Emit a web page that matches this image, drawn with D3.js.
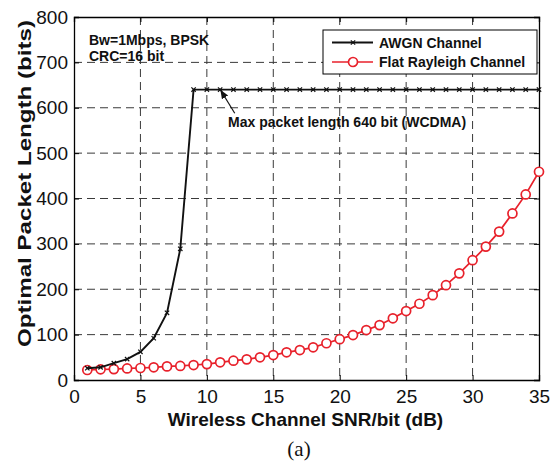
<!DOCTYPE html>
<html>
<head>
<meta charset="utf-8">
<script src="https://cdn.jsdelivr.net/npm/d3@7"></script>
<style>
  body { margin: 0; background: #fff; }
  svg { display: block; }
  text { font-family: "Liberation Sans", Arial, sans-serif; }
</style>
</head>
<body>
<div id="chart"></div>
<script>
// data
const snr = [1, 2, 3, 4, 5, 6, 7, 8, 9, 10, 11, 12, 13, 14, 15, 16, 17, 18, 19, 20,
    21, 22, 23, 24, 25, 26, 27, 28, 29, 30, 31, 32, 33, 34, 35];
const awgn = [26, 28, 37, 46, 62, 92, 148, 289, 640, 640, 640, 640, 640, 640, 640, 640, 640, 640, 640, 640,
    640, 640, 640, 640, 640, 640, 640, 640, 640, 640, 640, 640, 640, 640, 640];
const rayleigh = [22, 23.5, 24, 25.5, 26.5, 28, 30, 31, 33, 35, 39, 42.5, 45.5, 50, 55, 61, 66, 72, 81, 90,
    99, 110, 121, 136, 152, 168, 187, 209, 235, 264, 294, 327, 367, 409, 459];
const xTicks = [0, 5, 10, 15, 20, 25, 30, 35];
const yTicks = [0, 100, 200, 300, 400, 500, 600, 700, 800];
const seriesNames = ['AWGN Channel', 'Flat Rayleigh Channel'];

const W = 551, H = 464;
const MARGIN = { TOP: 17, BOTTOM: 84, LEFT: 74, RIGHT: 12 };
const RED = '#e8212b';

const svg = d3.select('#chart')
    .append('svg')
    .attr('width', W)
    .attr('height', H);

const x = d3.scaleLinear().domain([0, 35]).range([MARGIN.LEFT, W - MARGIN.RIGHT]);
const y = d3.scaleLinear().domain([0, 800]).range([H - MARGIN.BOTTOM, MARGIN.TOP]);

// grid
const grid = svg.append('g')
    .attr('stroke', '#3a3a3a')
    .attr('stroke-width', 1)
    .attr('stroke-dasharray', '8,5');
grid.selectAll('line.vx')
    .data(xTicks.slice(1, -1))
    .enter().append('line')
    .attr('x1', d => x(d)).attr('x2', d => x(d))
    .attr('y1', y(800)).attr('y2', y(0));
grid.selectAll('line.hy')
    .data(yTicks.slice(1, -1))
    .enter().append('line')
    .attr('x1', x(0)).attr('x2', x(35))
    .attr('y1', d => y(d)).attr('y2', d => y(d));

// axes, ticks inside
const xAxis = svg.append('g')
    .attr('transform', `translate(0, ${y(0)})`)
    .call(d3.axisBottom(x).tickValues(xTicks).tickSize(-5).tickPadding(9.5));
const yAxis = svg.append('g')
    .attr('transform', `translate(${x(0)}, 0)`)
    .call(d3.axisLeft(y).tickValues(yTicks).tickSize(-5).tickPadding(6));
svg.append('g')
    .attr('transform', `translate(0, ${y(800)})`)
    .call(d3.axisTop(x).tickValues(xTicks).tickSize(-5).tickFormat(''));
svg.append('g')
    .attr('transform', `translate(${x(35)}, 0)`)
    .call(d3.axisRight(y).tickValues(yTicks).tickSize(-5).tickFormat(''));

svg.selectAll('.domain').attr('stroke', '#000').attr('stroke-width', 1.3);
svg.selectAll('.tick line').attr('stroke', '#000').attr('stroke-width', 1);
[xAxis, yAxis].forEach(g => g.selectAll('text')
    .attr('font-size', '19px')
    .attr('fill', '#111')
    .style('font-family', '"Liberation Sans", Arial, sans-serif'));

// lines
const line = d3.line().x((d, i) => x(snr[i])).y(d => y(d));

svg.append('path')
    .datum(rayleigh)
    .attr('d', line)
    .attr('fill', 'none')
    .attr('stroke', RED)
    .attr('stroke-width', 1.7);

svg.selectAll('circle.ray')
    .data(rayleigh)
    .enter().append('circle')
    .attr('class', 'ray')
    .attr('cx', (d, i) => x(snr[i]))
    .attr('cy', d => y(d))
    .attr('r', 4.5)
    .attr('fill', '#fff')
    .attr('stroke', RED)
    .attr('stroke-width', 1.7);

svg.append('path')
    .datum(awgn)
    .attr('d', line)
    .attr('fill', 'none')
    .attr('stroke', '#111')
    .attr('stroke-width', 1.9);

const cross = d3.symbol().type(d3.symbolX).size(14);
svg.selectAll('path.awgn')
    .data(awgn)
    .enter().append('path')
    .attr('class', 'awgn')
    .attr('transform', (d, i) => `translate(${x(snr[i])}, ${y(d)})`)
    .attr('d', cross)
    .attr('fill', 'none')
    .attr('stroke', '#111')
    .attr('stroke-width', 1.2);

// legend
const legend = svg.append('g');
legend.append('rect')
    .attr('x', 323).attr('y', 30)
    .attr('width', 214).attr('height', 44)
    .attr('fill', '#fff')
    .attr('stroke', '#000')
    .attr('stroke-width', 1);

const items = legend.selectAll('g.item')
    .data(seriesNames)
    .enter().append('g')
    .attr('class', 'item')
    .attr('transform', (d, i) => `translate(0, ${i === 0 ? 42.5 : 62})`);
items.append('line')
    .attr('x1', 332).attr('x2', 373)
    .attr('stroke', (d, i) => i === 0 ? '#111' : RED)
    .attr('stroke-width', (d, i) => i === 0 ? 1.9 : 1.7);
items.filter((d, i) => i === 0).append('path')
    .attr('transform', 'translate(353, 0)')
    .attr('d', cross)
    .attr('fill', 'none')
    .attr('stroke', '#111')
    .attr('stroke-width', 1.2);
items.filter((d, i) => i === 1).append('circle')
    .attr('cx', 353).attr('r', 4.5)
    .attr('fill', '#fff')
    .attr('stroke', RED)
    .attr('stroke-width', 1.7);
items.append('text')
    .attr('x', 379)
    .attr('y', 5)
    .attr('font-size', '14px')
    .attr('font-weight', 'bold')
    .attr('fill', '#111')
    .text(d => d);

// annotations
svg.append('text')
    .attr('x', 89).attr('y', 45)
    .attr('font-size', '14px').attr('font-weight', 'bold').attr('fill', '#111')
    .text('Bw=1Mbps, BPSK');
svg.append('text')
    .attr('x', 89).attr('y', 61)
    .attr('font-size', '14px').attr('font-weight', 'bold').attr('fill', '#111')
    .text('CRC=16 bit');

svg.append('defs').append('marker')
    .attr('id', 'arrow')
    .attr('viewBox', '0 0 10 10')
    .attr('refX', 9).attr('refY', 5)
    .attr('markerWidth', 9).attr('markerHeight', 9)
    .attr('markerUnits', 'userSpaceOnUse')
    .attr('orient', 'auto')
    .append('path')
    .attr('d', 'M0,1 L10,5 L0,9 Z')
    .attr('fill', '#111');

svg.append('line')
    .attr('x1', x(12.1)).attr('y1', y(588))
    .attr('x2', x(11.05)).attr('y2', y(638))
    .attr('stroke', '#111')
    .attr('stroke-width', 1.2)
    .attr('marker-end', 'url(#arrow)');

svg.append('text')
    .attr('x', x(11.6)).attr('y', 126.5)
    .attr('font-size', '14px').attr('font-weight', 'bold').attr('fill', '#111')
    .text('Max packet length 640 bit (WCDMA)');

// axis titles
svg.append('text')
    .attr('x', (x(0) + x(35)) / 2 - 1)
    .attr('y', 426)
    .attr('text-anchor', 'middle')
    .attr('font-size', '19px')
    .attr('font-weight', 'bold')
    .attr('fill', '#111')
    .text('Wireless Channel SNR/bit (dB)');

svg.append('text')
    .attr('transform', `translate(31, ${(20 + 347) / 2}) rotate(-90)`)
    .attr('text-anchor', 'middle')
    .attr('font-size', '19px')
    .attr('font-weight', 'bold')
    .attr('fill', '#111')
    .attr('textLength', 327)
    .attr('lengthAdjust', 'spacingAndGlyphs')
    .text('Optimal Packet Length (bits)');

svg.append('text')
    .attr('x', 299)
    .attr('y', 456)
    .attr('text-anchor', 'middle')
    .attr('font-size', '21px')
    .attr('fill', '#111')
    .style('font-family', '"Liberation Serif", "Times New Roman", serif')
    .text('(a)');
</script>
</body>
</html>
